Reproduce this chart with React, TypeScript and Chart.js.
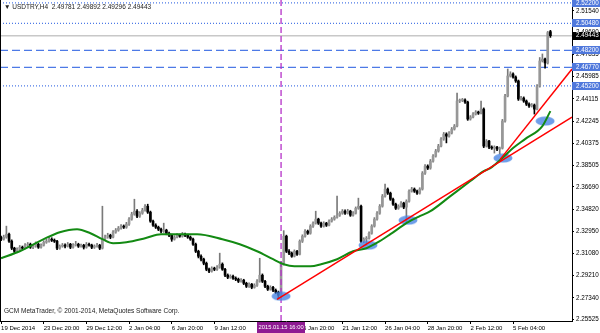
import { useEffect, useRef } from 'react';
import { Chart, registerables } from 'chart.js';
Chart.register(...registerables);

const X_MIN = -0.4;
const X_MAX = 214.1;
const Y_MIN = 2.2538;
const Y_MAX = 2.5245;

const opens = [
  2.3245,2.3228,2.3245,2.3270,2.3211,2.3152,2.3126,2.3143,2.3160,2.3152,
  2.3177,2.3185,2.3160,2.3169,2.3185,2.3160,2.3177,2.3202,2.3211,2.3228,
  2.3219,2.3211,2.3152,2.3169,2.3177,2.3169,2.3185,2.3160,2.3177,2.3185,
  2.3169,2.3177,2.3160,2.3185,2.3177,2.3160,2.3169,2.3177,2.3152,2.3228,
  2.3245,2.3261,2.3245,2.3287,2.3304,2.3321,2.3338,2.3329,2.3355,2.3397,
  2.3439,2.3464,2.3422,2.3447,2.3473,2.3506,2.3456,2.3380,2.3346,2.3329,
  2.3312,2.3295,2.3304,2.3278,2.3261,2.3228,2.3245,2.3261,2.3253,2.3270,
  2.3261,2.3245,2.3228,2.3185,2.3126,2.3084,2.3059,2.3025,2.2974,2.2958,
  2.2983,2.2974,2.2991,2.3017,2.2974,2.2924,2.2907,2.2915,2.2898,2.2890,
  2.2873,2.2882,2.2856,2.2831,2.2848,2.2822,2.2839,2.2873,2.2924,2.2873,
  2.2831,2.2806,2.2822,2.2797,2.2780,2.2755,2.3025,2.3253,2.3126,2.3110,
  2.3084,2.3126,2.3101,2.3211,2.3253,2.3295,2.3278,2.3338,2.3363,2.3397,
  2.3363,2.3338,2.3363,2.3346,2.3380,2.3397,2.3413,2.3430,2.3447,2.3464,
  2.3447,2.3464,2.3430,2.3447,2.3489,2.3506,2.3211,2.3228,2.3236,2.3278,
  2.3338,2.3397,2.3447,2.3506,2.3591,2.3650,2.3616,2.3565,2.3523,2.3489,
  2.3506,2.3532,2.3498,2.3548,2.3633,2.3650,2.3633,2.3616,2.3650,2.3785,
  2.3844,2.3827,2.3886,2.3928,2.3971,2.4013,2.4072,2.4114,2.4097,2.4123,
  2.4156,2.4182,2.4393,2.4398,2.4401,2.4384,2.4241,2.4258,2.4283,2.4300,
  2.4291,2.4325,2.4013,2.4055,2.4004,2.3996,2.4004,2.3988,2.3995,2.4224,
  2.4435,2.4604,2.4621,2.4595,2.4562,2.4410,2.4418,2.4393,2.4367,2.4351,
  2.4359,2.4325,2.4519,2.4731,2.4747,2.4714,2.49781,
];
const highs = [
  2.3255,2.3262,2.3338,2.3280,2.3222,2.3160,2.3155,2.3175,2.3170,2.3190,
  2.3200,2.3195,2.3182,2.3205,2.3193,2.3188,2.3215,2.3228,2.3245,2.3240,
  2.3230,2.3218,2.3180,2.3192,2.3188,2.3200,2.3193,2.3190,2.3210,2.3194,
  2.3186,2.3185,2.3200,2.3195,2.3186,2.3180,2.3192,2.3185,2.3506,2.3262,
  2.3278,2.3270,2.3300,2.3318,2.3335,2.3352,2.3348,2.3370,2.3410,2.3455,
  2.3565,2.3478,2.3460,2.3488,2.3520,2.3523,2.3465,2.3390,2.3358,2.3338,
  2.3322,2.3363,2.3312,2.3288,2.3270,2.3258,2.3275,2.3270,2.3285,2.3280,
  2.3270,2.3255,2.3238,2.3195,2.3135,2.3095,2.3068,2.3035,2.2985,2.2995,
  2.2992,2.3005,2.3110,2.3028,2.2982,2.2935,2.2928,2.2925,2.2910,2.2900,
  2.2895,2.2890,2.2865,2.2860,2.2855,2.2852,2.2888,2.3067,2.2935,2.2882,
  2.2840,2.2835,2.2830,2.2808,2.2790,2.3040,2.3300,2.3262,2.3140,2.3120,
  2.3138,2.3135,2.3222,2.3265,2.3310,2.3305,2.3350,2.3375,2.3464,2.3405,
  2.3372,2.3375,2.3370,2.3392,2.3410,2.3425,2.3591,2.3460,2.3478,2.3475,
  2.3480,2.3472,2.3460,2.3500,2.3574,2.3515,2.3240,2.3250,2.3290,2.3350,
  2.3410,2.3460,2.3520,2.3605,2.3692,2.3660,2.3625,2.3575,2.3532,2.3518,
  2.3545,2.3540,2.3560,2.3645,2.3665,2.3660,2.3642,2.3662,2.3798,2.3858,
  2.3855,2.3900,2.3942,2.3985,2.4028,2.4085,2.4128,2.4125,2.4135,2.4170,
  2.4195,2.4460,2.4410,2.4415,2.4412,2.4392,2.4270,2.4295,2.4312,2.4308,
  2.4393,2.4335,2.4068,2.4062,2.4015,2.4015,2.4012,2.4005,2.4238,2.4450,
  2.4663,2.4640,2.4630,2.4605,2.4570,2.4432,2.4428,2.4402,2.4378,2.4372,
  2.4368,2.4532,2.4760,2.4790,2.4755,2.4980,2.49892,
];
const lows = [
  2.3215,2.3220,2.3236,2.3200,2.3140,2.3105,2.3118,2.3135,2.3140,2.3145,
  2.3165,2.3150,2.3148,2.3160,2.3150,2.3152,2.3170,2.3193,2.3203,2.3208,
  2.3200,2.3140,2.3143,2.3160,2.3155,2.3162,2.3148,2.3153,2.3170,2.3158,
  2.3160,2.3145,2.3152,2.3168,2.3148,2.3150,2.3160,2.3140,2.3145,2.3218,
  2.3236,2.3232,2.3238,2.3278,2.3295,2.3312,2.3318,2.3320,2.3345,2.3388,
  2.3430,2.3410,2.3412,2.3438,2.3465,2.3445,2.3370,2.3335,2.3318,2.3300,
  2.3280,2.3285,2.3265,2.3250,2.3210,2.3220,2.3238,2.3244,2.3245,2.3250,
  2.3235,2.3218,2.3175,2.3115,2.3070,2.3045,2.3012,2.2962,2.2945,2.2950,
  2.2962,2.2965,2.2983,2.2965,2.2912,2.2895,2.2898,2.2888,2.2878,2.2862,
  2.2865,2.2845,2.2820,2.2822,2.2810,2.2815,2.2830,2.2865,2.2862,2.2820,
  2.2795,2.2798,2.2785,2.2768,2.2730,2.2738,2.3010,2.3115,2.3098,2.3075,
  2.3078,2.3092,2.3095,2.3200,2.3245,2.3268,2.3270,2.3328,2.3355,2.3352,
  2.3328,2.3330,2.3335,2.3340,2.3372,2.3388,2.3405,2.3420,2.3438,2.3436,
  2.3440,2.3420,2.3422,2.3440,2.3480,2.3200,2.3198,2.3177,2.3228,2.3270,
  2.3330,2.3388,2.3438,2.3498,2.3582,2.3605,2.3555,2.3512,2.3478,2.3480,
  2.3498,2.3485,2.3372,2.3540,2.3625,2.3622,2.3605,2.3608,2.3642,2.3775,
  2.3815,2.3818,2.3878,2.3920,2.3962,2.4005,2.4062,2.4040,2.4088,2.4115,
  2.4148,2.4175,2.4380,2.4388,2.4372,2.4230,2.4232,2.4250,2.4275,2.4280,
  2.4285,2.4000,2.4005,2.3992,2.3985,2.3954,2.3975,2.3945,2.3988,2.4215,
  2.4428,2.4595,2.4585,2.4550,2.4398,2.4400,2.4382,2.4355,2.4340,2.4342,
  2.4283,2.4318,2.4510,2.4722,2.4671,2.4705,2.49296,
];
const closes = [
  2.3228,2.3245,2.3270,2.3211,2.3152,2.3126,2.3143,2.3160,2.3152,2.3177,
  2.3185,2.3160,2.3169,2.3185,2.3160,2.3177,2.3202,2.3211,2.3228,2.3219,
  2.3211,2.3152,2.3169,2.3177,2.3169,2.3185,2.3160,2.3177,2.3185,2.3169,
  2.3177,2.3160,2.3185,2.3177,2.3160,2.3169,2.3177,2.3152,2.3228,2.3245,
  2.3261,2.3245,2.3287,2.3304,2.3321,2.3338,2.3329,2.3355,2.3397,2.3439,
  2.3464,2.3422,2.3447,2.3473,2.3506,2.3456,2.3380,2.3346,2.3329,2.3312,
  2.3295,2.3304,2.3278,2.3261,2.3228,2.3245,2.3261,2.3253,2.3270,2.3261,
  2.3245,2.3228,2.3185,2.3126,2.3084,2.3059,2.3025,2.2974,2.2958,2.2983,
  2.2974,2.2991,2.3017,2.2974,2.2924,2.2907,2.2915,2.2898,2.2890,2.2873,
  2.2882,2.2856,2.2831,2.2848,2.2822,2.2839,2.2873,2.2924,2.2873,2.2831,
  2.2806,2.2822,2.2797,2.2780,2.2755,2.3025,2.3253,2.3126,2.3110,2.3084,
  2.3126,2.3101,2.3211,2.3253,2.3295,2.3278,2.3338,2.3363,2.3397,2.3363,
  2.3338,2.3363,2.3346,2.3380,2.3397,2.3413,2.3430,2.3447,2.3464,2.3447,
  2.3464,2.3430,2.3447,2.3489,2.3506,2.3211,2.3228,2.3236,2.3278,2.3338,
  2.3397,2.3447,2.3506,2.3591,2.3650,2.3616,2.3565,2.3523,2.3489,2.3506,
  2.3532,2.3498,2.3548,2.3633,2.3650,2.3633,2.3616,2.3650,2.3785,2.3844,
  2.3827,2.3886,2.3928,2.3971,2.4013,2.4072,2.4114,2.4097,2.4123,2.4156,
  2.4182,2.4393,2.4398,2.4401,2.4384,2.4241,2.4258,2.4283,2.4300,2.4291,
  2.4325,2.4013,2.4055,2.4004,2.3996,2.4004,2.3988,2.3995,2.4224,2.4435,
  2.4604,2.4621,2.4595,2.4562,2.4410,2.4418,2.4393,2.4367,2.4351,2.4359,
  2.4325,2.4519,2.4731,2.4747,2.4714,2.4970,2.49443,
];

const timeTickBars = [0, 16, 32, 48, 64, 80, 96, 112, 128, 144, 160, 176, 192];
const timeTickLabels = [
  '19 Dec 2014', '23 Dec 20:00', '29 Dec 12:00', '2 Jan 04:00', '6 Jan 20:00', '9 Jan 12:00',
  '14 Jan 04:00', '16 Jan 20:00', '21 Jan 12:00', '26 Jan 04:00', '28 Jan 20:00', '2 Feb 12:00', '5 Feb 04:00',
];
const priceTicks = [
  2.5154, 2.4969, 2.47835, 2.45985, 2.44115, 2.42245, 2.40375, 2.38505,
  2.3669, 2.3482, 2.3295, 2.3108, 2.2921, 2.2734, 2.25525,
];

const dottedLevels = [2.522, 2.5048, 2.452];
const dashedLevels = [2.482, 2.4677];
const currentPrice = 2.49443;
const vlineBar = 105;
const vlineLabel = '2015.01.15 16:00';

const maBars = [0, 7, 16, 22, 28.5, 33.5, 38, 42, 47, 54, 60, 67, 73.5, 83, 89.5, 96, 102, 106, 110, 116, 120, 126, 132, 137, 142, 146, 152, 157, 161, 168.5, 176, 181, 183.5, 188, 192, 196.5, 203, 206];
const maValues = [2.3067, 2.3126, 2.3228, 2.3287, 2.3312, 2.3278, 2.3228, 2.3194, 2.3202, 2.3236, 2.3270, 2.3270, 2.3270, 2.3228, 2.3185, 2.3126, 2.3059, 2.3017, 2.3000, 2.3000, 2.3017, 2.3059, 2.3126, 2.3152, 2.3211, 2.3270, 2.3363, 2.3422, 2.3464, 2.3591, 2.3718, 2.3802, 2.3827, 2.3912, 2.3996, 2.4072, 2.4182, 2.4308];

const trendABars = [103.5, 214.1];
const trendAPrices = [2.2721, 2.4258];
const trendBBars = [187.1, 214.1];
const trendBPrices = [2.3899, 2.4663];

const markerBars = [105, 137.6, 152.6, 188.2, 204];
const markerPrices = [2.2747, 2.3177, 2.3388, 2.3912, 2.4224];

const titleText = '▼ USDTRY,H4  2.49781 2.49892 2.49296 2.49443';
const copyrightText = 'GCM MetaTrader, © 2001-2014, MetaQuotes Software Corp.';

const BULL = '#979797';
const BULL_WICK = '#7a7a7a';
const BEAR = '#000000';
const LEVEL = '#4d7ae6';
const LEVEL_BG = '#4f78dc';
const VLINE = '#b432c8';
const VLINE_BG = '#8e1a92';
const FONT = '"Liberation Sans", Arial, sans-serif';

export default function App() {
  const ref = useRef<HTMLCanvasElement | null>(null);

  useEffect(() => {
    document.body.style.margin = '0';
    const canvas = ref.current;
    if (!canvas) return;

    const idx = closes.map((_, i) => i);
    const bodyColors = idx.map((i) => (closes[i] >= opens[i] ? BULL : BEAR));
    const wickColors = idx.map((i) => (closes[i] >= opens[i] ? BULL_WICK : BEAR));

    const ell = document.createElement('canvas');
    ell.width = 20;
    ell.height = 10;
    const ectx = ell.getContext('2d');
    if (ectx) {
      ectx.fillStyle = 'rgba(74,134,228,0.8)';
      ectx.beginPath();
      ectx.ellipse(10, 5, 9.5, 4.5, 0, 0, Math.PI * 2);
      ectx.fill();
    }

    const hline = (v: number, dash: number[], color: string, width: number, order: number) => ({
      type: 'line' as const,
      data: [{ x: X_MIN, y: v }, { x: X_MAX, y: v }],
      borderColor: color,
      borderWidth: width,
      borderDash: dash,
      pointRadius: 0,
      order,
    });

    const overlay = {
      id: 'overlay',
      afterDraw(chart: any) {
        const { ctx, chartArea, scales } = chart;
        const ys = scales.y;
        const xs = scales.x;
        ctx.save();
        ctx.strokeStyle = '#000';
        ctx.lineWidth = 1;
        ctx.beginPath();
        ctx.moveTo(0.5, 0);
        ctx.lineTo(0.5, chartArea.bottom);
        ctx.stroke();

        ctx.textBaseline = 'middle';
        ctx.textAlign = 'left';
        ctx.font = `6.3px ${FONT}`;
        for (const v of [...dottedLevels, ...dashedLevels]) {
          const py = ys.getPixelForValue(v);
          ctx.fillStyle = LEVEL_BG;
          ctx.fillRect(chartArea.right, Math.round(py) - 4, 600 - chartArea.right, 8);
          ctx.fillStyle = '#fff';
          ctx.fillText(v.toFixed(5), chartArea.right + 4, py);
        }
        const cp = ys.getPixelForValue(currentPrice);
        ctx.fillStyle = '#000';
        ctx.fillRect(chartArea.right, Math.round(cp) - 4, 600 - chartArea.right, 8);
        ctx.fillStyle = '#fff';
        ctx.fillText(currentPrice.toFixed(5), chartArea.right + 4, cp);

        const vx = xs.getPixelForValue(vlineBar);
        ctx.font = `5.8px ${FONT}`;
        ctx.fillStyle = VLINE_BG;
        ctx.fillRect(Math.round(vx) - 24, chartArea.bottom + 1, 48, 11);
        ctx.fillStyle = '#fff';
        ctx.textAlign = 'center';
        ctx.fillText(vlineLabel, vx, chartArea.bottom + 6.5);

        ctx.textAlign = 'left';
        ctx.fillStyle = '#222';
        ctx.font = `6.5px ${FONT}`;
        ctx.fillText(titleText, 4, 7);
        ctx.fillText(copyrightText, 4, 311);
        ctx.restore();
      },
    };

    const chart = new Chart(canvas, {
      type: 'bar',
      data: {
        datasets: [
          ...dottedLevels.map((v) => hline(v, [1, 2], LEVEL, 1.3, 30)),
          ...dashedLevels.map((v) => hline(v, [8, 4], LEVEL, 1.3, 30)),
          hline(currentPrice, [], '#c8c8c8', 1.5, 29),
          {
            type: 'bar' as const,
            data: idx.map((i) => ({ x: i, y: [lows[i], highs[i]] })),
            backgroundColor: wickColors,
            barThickness: 1,
            grouped: false,
            order: 20,
          },
          {
            type: 'bar' as const,
            data: idx.map((i) => ({ x: i, y: [opens[i], closes[i]] })),
            backgroundColor: bodyColors,
            barThickness: 2,
            minBarLength: 1,
            grouped: false,
            order: 19,
          },
          {
            type: 'line' as const,
            data: [{ x: vlineBar, y: Y_MIN }, { x: vlineBar, y: Y_MAX }],
            borderColor: VLINE,
            borderWidth: 1.3,
            borderDash: [6, 3],
            pointRadius: 0,
            order: 15,
          },
          {
            type: 'line' as const,
            data: markerBars.map((b, i) => ({ x: b, y: markerPrices[i] })),
            showLine: false,
            pointStyle: ell as any,
            pointRadius: 5,
            order: 12,
          },
          {
            type: 'line' as const,
            data: maBars.map((b, i) => ({ x: b, y: maValues[i] })),
            borderColor: '#138a13',
            borderWidth: 2,
            pointRadius: 0,
            cubicInterpolationMode: 'monotone' as const,
            order: 11,
          },
          {
            type: 'line' as const,
            data: trendABars.map((b, i) => ({ x: b, y: trendAPrices[i] })),
            borderColor: '#ff0000',
            borderWidth: 1.5,
            pointRadius: 0,
            order: 10,
          },
          {
            type: 'line' as const,
            data: trendBBars.map((b, i) => ({ x: b, y: trendBPrices[i] })),
            borderColor: '#ff0000',
            borderWidth: 1.5,
            pointRadius: 0,
            order: 10,
          },
        ] as any,
      },
      options: {
        responsive: false,
        animation: false,
        events: [],
        layout: { padding: 0, autoPadding: false },
        plugins: { legend: { display: false }, tooltip: { enabled: false }, title: { display: false } },
        scales: {
          x: {
            type: 'linear',
            min: X_MIN,
            max: X_MAX,
            offset: false,
            position: 'bottom',
            afterBuildTicks: (s: any) => {
              s.ticks = timeTickBars.map((v) => ({ value: v }));
            },
            afterFit: (s: any) => {
              s.height = 12;
              s.paddingLeft = 0;
              s.paddingRight = 0;
            },
            ticks: {
              autoSkip: false,
              maxRotation: 0,
              minRotation: 0,
              align: 'start',
              padding: 1,
              color: '#000',
              font: { family: FONT, size: 6 },
              callback: (v: any) => {
                const k = timeTickBars.indexOf(Number(v));
                return k >= 0 ? timeTickLabels[k] : '';
              },
            },
            grid: { display: true, drawOnChartArea: false, drawTicks: true, tickLength: 3, color: '#000', offset: false },
            border: { display: true, color: '#000' },
          },
          y: {
            type: 'linear',
            position: 'right',
            min: Y_MIN,
            max: Y_MAX,
            beginAtZero: false,
            afterBuildTicks: (s: any) => {
              s.ticks = priceTicks.map((v) => ({ value: v }));
            },
            afterFit: (s: any) => {
              s.width = 28;
              s.paddingTop = 0;
              s.paddingBottom = 0;
            },
            ticks: {
              autoSkip: false,
              padding: 2,
              color: '#000',
              font: { family: FONT, size: 6.3 },
              callback: (v: any) => Number(v).toFixed(5),
            },
            grid: { display: true, drawOnChartArea: false, drawTicks: true, tickLength: 2, color: '#000' },
            border: { display: true, color: '#000' },
          },
        },
      } as any,
      plugins: [overlay],
    });

    return () => chart.destroy();
  }, []);

  return (
    <div style={{ width: 600, height: 333 }}>
      <canvas ref={ref} width={600} height={333} style={{ display: 'block' }} />
    </div>
  );
}
